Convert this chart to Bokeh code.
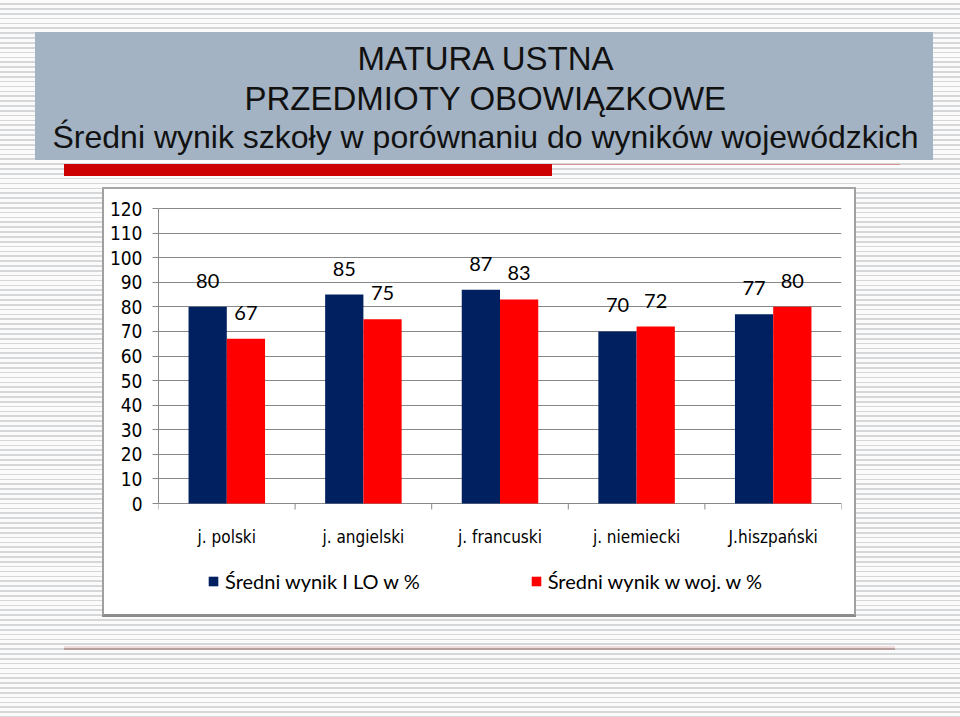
from bokeh.plotting import figure
from bokeh.models import (Range1d, FactorRange, ColumnDataSource, LinearAxis, FixedTicker,
                          Legend, LegendItem, LabelSet, Title)
from bokeh.transform import dodge
from bokeh.core.properties import value
from bokeh.embed import file_html
from bokeh.resources import INLINE

# ---------------- data ----------------
title_lines = ["MATURA USTNA", "PRZEDMIOTY OBOWIĄZKOWE",
               "Średni wynik szkoły w porównaniu do wyników wojewódzkich"]
categories = ["j. polski", "j. angielski", "j. francuski", "j. niemiecki", "J.hiszpański"]
school = [80, 85, 87, 70, 77]
region = [67, 75, 83, 72, 80]
series_names = ["Średni wynik I LO w %", "Średni wynik w woj. w %"]
y_ticks = list(range(0, 121, 10))

# ---------------- styles ----------------
BG = "#fbfbfb"
STRIPE = "#d5d7d9"
BOX = "#a3b3c3"
RED_BAR = "#cc0000"
BLUE = "#002060"
RED = "#ff0000"
GRID = "#888888"
NARROW = "DejaVu Sans Condensed"
SANS = "Liberation Sans"
LABF = "Lato"

# layout: value axis 0..120 spans 295 px; frame extended above/below for labels & legend
PX_PER_UNIT = 295 / 120
Y_MIN = -102 / PX_PER_UNIT
Y_MAX = 120 + 53 / PX_PER_UNIT
TICK_LEN = 6 / PX_PER_UNIT


def rect_layer(color, x, y, w, h):
    return f"linear-gradient({color},{color}) {x}px {y}px / {w}px {h}px no-repeat"


# slide decoration (page element background behind the transparent plot)
slide_bg = ", ".join([
    rect_layer(BOX, 35, 32, 898, 128),           # title box
    rect_layer(RED_BAR, 64, 164, 488, 12),        # red bar
    rect_layer("#d89090", 552, 164, 348, 1),      # thin rule
    rect_layer("#a6a6a6", 102, 187, 754, 2),      # chart box border
    rect_layer("#a0a0a0", 102, 187, 2, 428),
    rect_layer("#a0a0a0", 854, 187, 2, 428),
    rect_layer("#8c8c8c", 102, 614, 754, 3),
    rect_layer("#ffffff", 102, 187, 754, 428),    # chart box
    rect_layer("#b8a0a0", 64, 648, 831, 2),       # bottom rule
    rect_layer("#f0dcdc", 64, 646, 831, 2),
    f"repeating-linear-gradient(to bottom, {BG} 0px, {BG} 3.2px, {STRIPE} 3.2px, {STRIPE} 4.85px)",
])

p = figure(width=960, height=717, x_range=FactorRange(factors=categories, range_padding=0),
           y_range=Range1d(Y_MIN, Y_MAX), output_backend="svg", toolbar_location=None,
           x_axis_location=None, y_axis_location=None,
           min_border_left=158, min_border_right=119, min_border_top=155, min_border_bottom=112)
p.styles = {"background": slide_bg}
p.background_fill_color = None
p.border_fill_color = None
p.outline_line_color = None
p.xgrid.visible = False

# title lines (closest to the chart first)
for txt, size, so, off in zip(title_lines[::-1], ["32px", "33px", "33px"], [1, 0, 1], [-106, 86, 199]):
    p.add_layout(Title(text=txt, align="left", offset=off, standoff=so, text_font=SANS,
                       text_font_size=size, text_font_style="normal", text_color="#111111"),
                 "above")

# ---------------- chart ----------------
src = ColumnDataSource(dict(cat=categories, school=school, region=region,
                            school_s=[str(v) for v in school], region_s=[str(v) for v in region]))

yt = FixedTicker(ticks=y_ticks)
yax = LinearAxis(ticker=yt, bounds=(y_ticks[0], y_ticks[-1]))
yax.axis_line_color = GRID
yax.major_tick_line_color = GRID
yax.major_tick_out = 6
yax.major_tick_in = 0
yax.minor_tick_line_color = None
yax.major_label_standoff = 10
yax.major_label_text_font = NARROW
yax.major_label_text_font_size = "19px"
yax.major_label_text_color = "black"
p.add_layout(yax, "left")
p.ygrid.ticker = yt
p.ygrid.grid_line_color = GRID

# category axis: ticks at the boundaries between categories, labels under each group
bounds_x = list(range(len(categories) + 1))
p.segment(x0=bounds_x, x1=bounds_x, y0=[0] * len(bounds_x), y1=[-TICK_LEN] * len(bounds_x),
          line_color=GRID, line_width=1)
p.add_layout(LabelSet(x="cat", y=0, text="cat", source=src, y_offset=-33, text_align="center",
                      text_baseline="middle", text_font=value(NARROW), text_font_size="17px",
                      text_color="black"))

rb = p.vbar(x=dodge("cat", -0.14, range=p.x_range), top="school", width=0.28, source=src,
            fill_color=BLUE, line_color=None)
rr = p.vbar(x=dodge("cat", 0.14, range=p.x_range), top="region", width=0.28, source=src,
            fill_color=RED, line_color=None)

for col, off in (("school", -0.14), ("region", 0.14)):
    p.add_layout(LabelSet(x=dodge("cat", off, range=p.x_range), y=col, text=col + "_s", source=src,
                          y_offset=26, text_align="center", text_baseline="middle",
                          text_font=value(LABF), text_font_size="20px", text_color="black"))

leg = Legend(items=[LegendItem(label=series_names[0], renderers=[rb]),
                    LegendItem(label=series_names[1], renderers=[rr])],
             orientation="horizontal", location=(49, 12))
leg.glyph_width = 12
leg.glyph_height = 12
leg.label_standoff = 6
leg.spacing = 110
leg.padding = 4
leg.border_line_color = None
leg.background_fill_alpha = 0
leg.label_text_font = LABF
leg.label_text_font_size = "20px"
leg.label_text_color = "black"
p.add_layout(leg)

open("out.html", "w").write(file_html(p, INLINE))
